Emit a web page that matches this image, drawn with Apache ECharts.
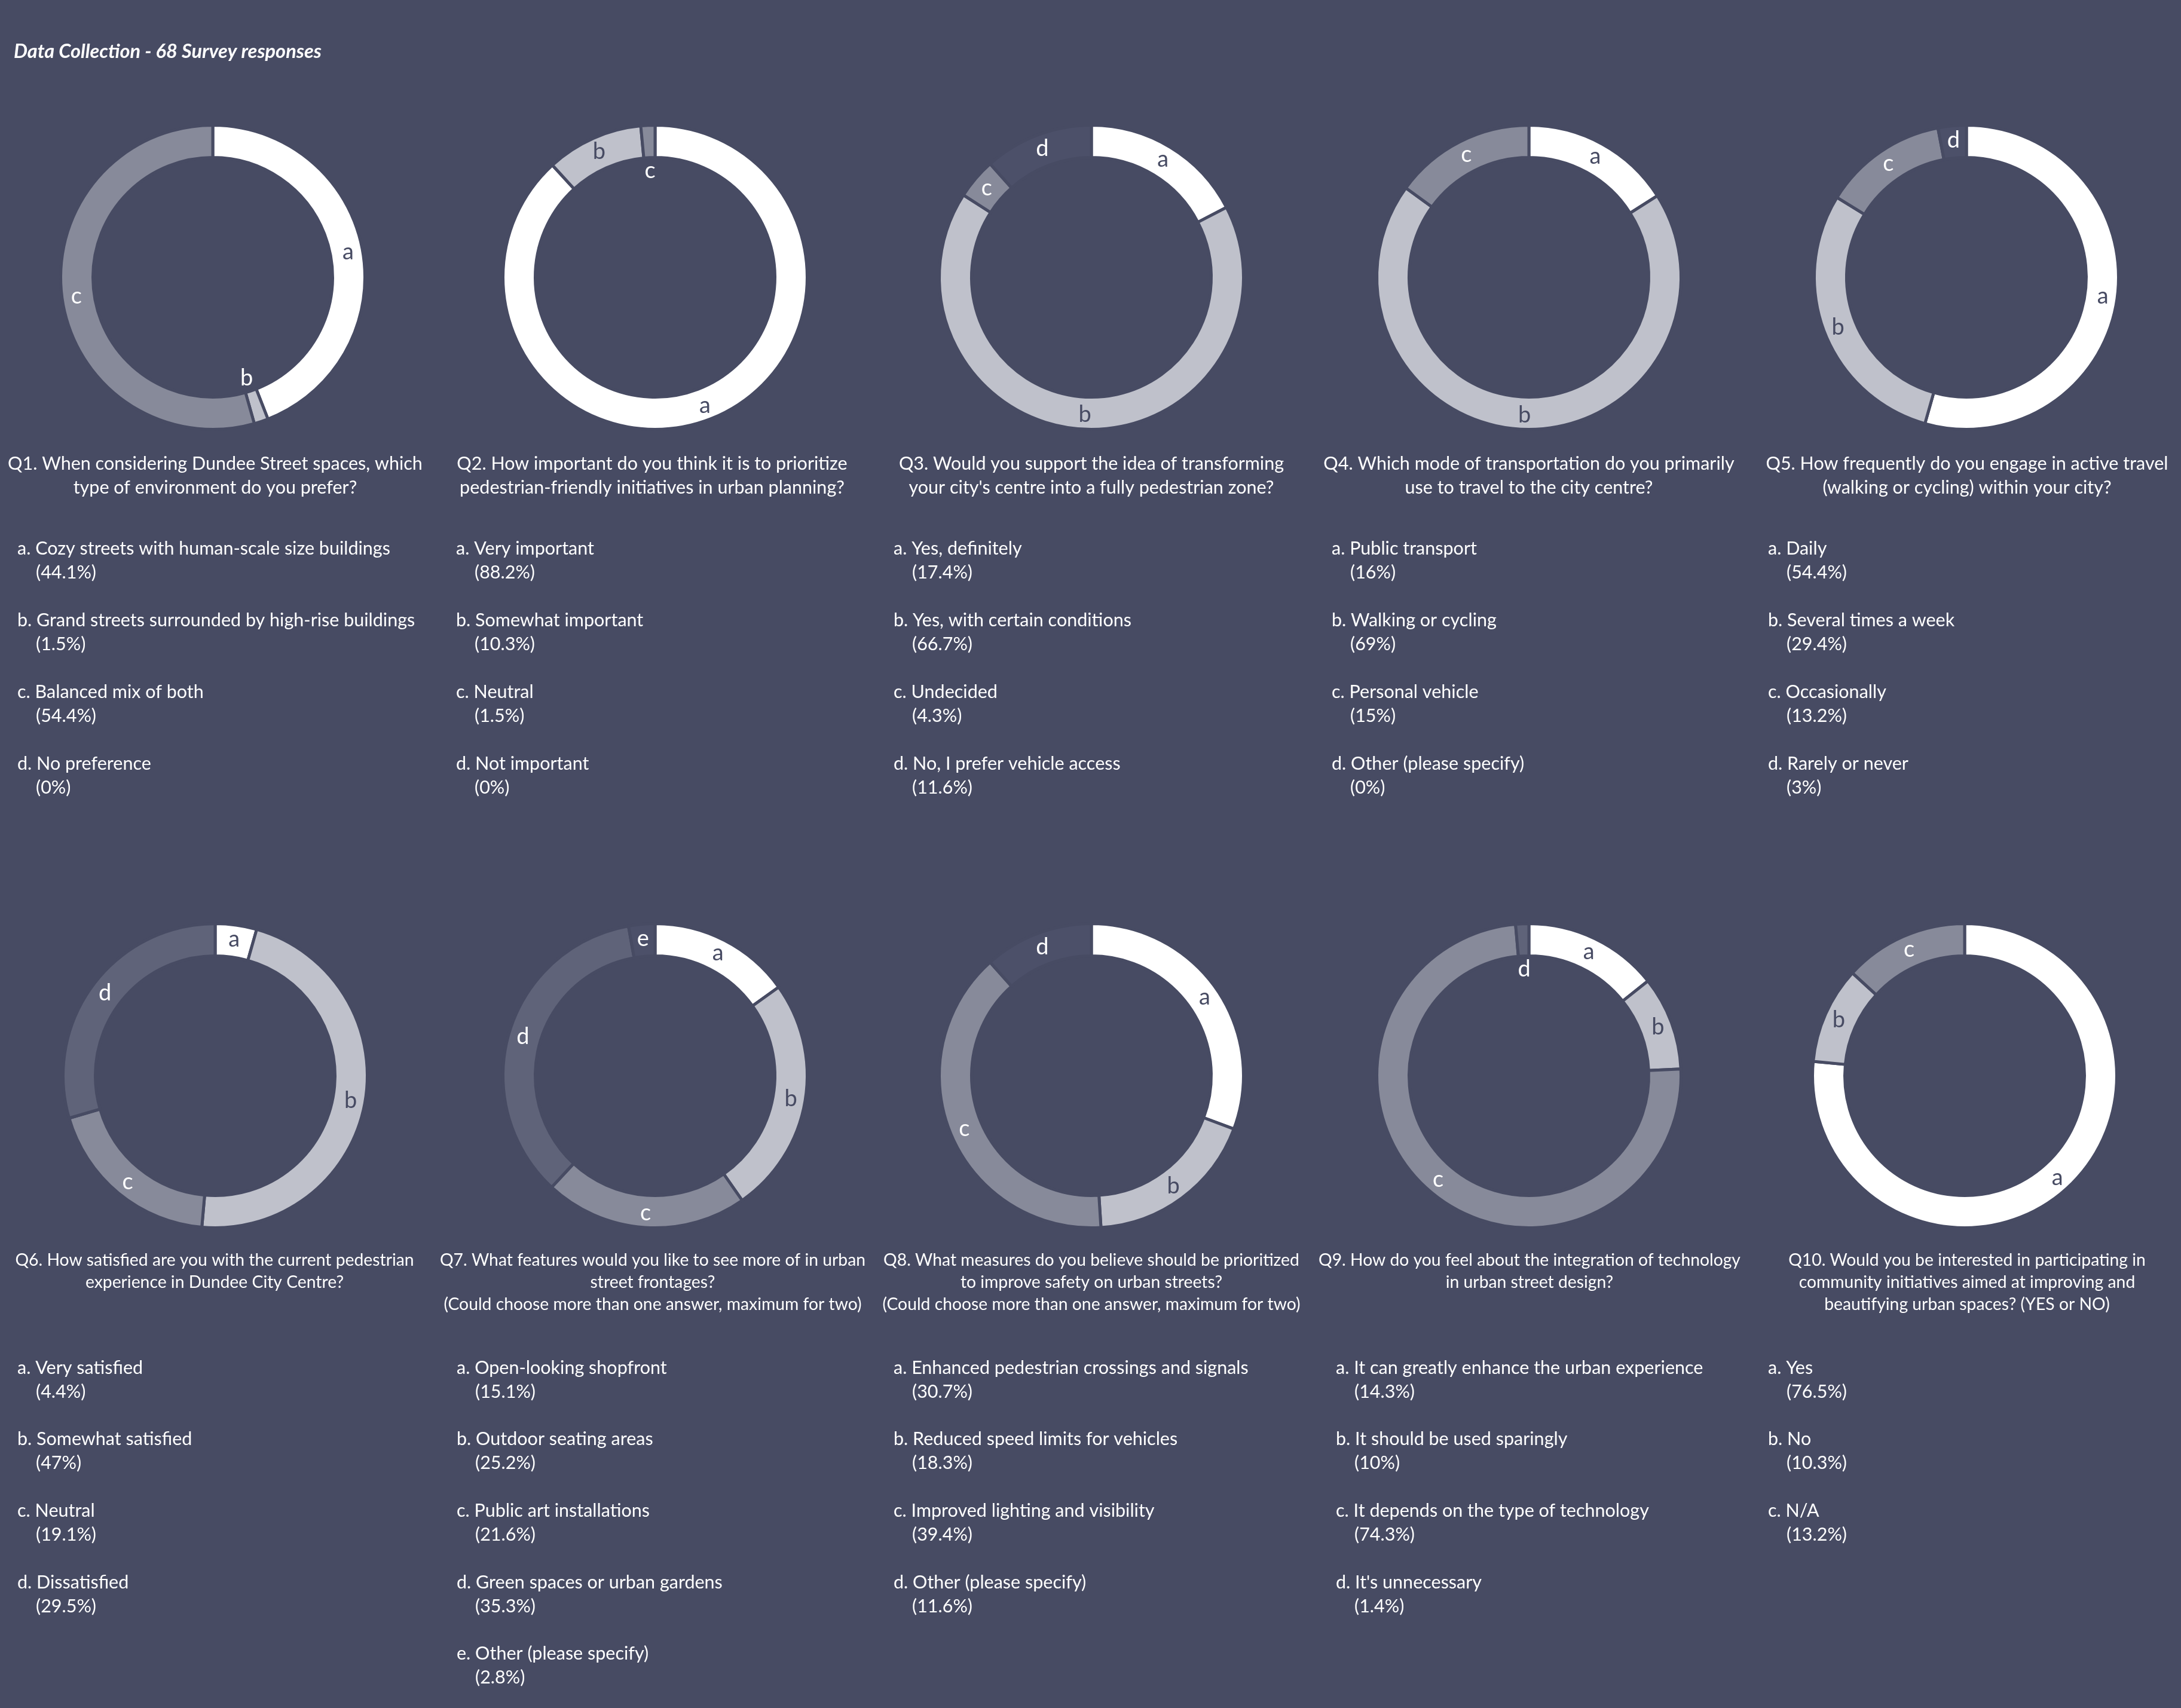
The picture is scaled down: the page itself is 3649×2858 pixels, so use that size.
<!DOCTYPE html>
<html>
<head>
<meta charset="utf-8">
<script src="https://cdn.jsdelivr.net/npm/echarts@6/dist/echarts.min.js"></script>
<style>
html,body{margin:0;padding:0;width:100%;height:100%;background:#474b63;}
#chart{width:100%;height:100%;}
</style>
</head>
<body>
<div id="chart"></div>
<script>
// ---------- DATA ----------
const mainTitle = "Data Collection - 68 Survey responses";

const questionTitles = [
  "Q1. When considering Dundee Street spaces, which\ntype of environment do you prefer?",
  "Q2. How important do you think it is to prioritize\npedestrian-friendly initiatives in urban planning?",
  "Q3. Would you support the idea of transforming\nyour city's centre into a fully pedestrian zone?",
  "Q4. Which mode of transportation do you primarily\nuse to travel to the city centre?",
  "Q5. How frequently do you engage in active travel\n(walking or cycling) within your city?",
  "Q6. How satisfied are you with the current pedestrian\nexperience in Dundee City Centre?",
  "Q7. What features would you like to see more of in urban\nstreet frontages?\n(Could choose more than one answer, maximum for two)",
  "Q8. What measures do you believe should be prioritized\nto improve safety on urban streets?\n(Could choose more than one answer, maximum for two)",
  "Q9. How do you feel about the integration of technology\nin urban street design?",
  "Q10. Would you be interested in participating in\ncommunity initiatives aimed at improving and\nbeautifying urban spaces? (YES or NO)"
];

const q1Options = ["Cozy streets with human-scale size buildings", "Grand streets surrounded by high-rise buildings", "Balanced mix of both", "No preference"];
const q1Values  = [44.1, 1.5, 54.4, 0];
const q2Options = ["Very important", "Somewhat important", "Neutral", "Not important"];
const q2Values  = [88.2, 10.3, 1.5, 0];
const q3Options = ["Yes, definitely", "Yes, with certain conditions", "Undecided", "No, I prefer vehicle access"];
const q3Values  = [17.4, 66.7, 4.3, 11.6];
const q4Options = ["Public transport", "Walking or cycling", "Personal vehicle", "Other (please specify)"];
const q4Values  = [16, 69, 15, 0];
const q5Options = ["Daily", "Several times a week", "Occasionally", "Rarely or never"];
const q5Values  = [54.4, 29.4, 13.2, 3];
const q6Options = ["Very satisfied", "Somewhat satisfied", "Neutral", "Dissatisfied"];
const q6Values  = [4.4, 47, 19.1, 29.5];
const q7Options = ["Open-looking shopfront", "Outdoor seating areas", "Public art installations", "Green spaces or urban gardens", "Other (please specify)"];
const q7Values  = [15.1, 25.2, 21.6, 35.3, 2.8];
const q8Options = ["Enhanced pedestrian crossings and signals", "Reduced speed limits for vehicles", "Improved lighting and visibility", "Other (please specify)"];
const q8Values  = [30.7, 18.3, 39.4, 11.6];
const q9Options = ["It can greatly enhance the urban experience", "It should be used sparingly", "It depends on the type of technology", "It's unnecessary"];
const q9Values  = [14.3, 10, 74.3, 1.4];
const q10Options = ["Yes", "No", "N/A"];
const q10Values  = [76.5, 10.3, 13.2];

const allOptions = [q1Options, q2Options, q3Options, q4Options, q5Options, q6Options, q7Options, q8Options, q9Options, q10Options];
const allValues  = [q1Values, q2Values, q3Values, q4Values, q5Values, q6Values, q7Values, q8Values, q9Values, q10Values];

// ---------- STYLE / LAYOUT ----------
const BG = '#474b63';
const DARK_TXT = '#474b63';
const palette = {W:'#ffffff', L:'#bfc1cb', M:'#878a9a', D:'#5f6379', X:'#4c5069'};
const sliceColors = [
  ['W','L','M','D'], ['W','L','M','D'], ['W','L','M','X'], ['W','L','M','D'], ['W','L','M','X'],
  ['W','L','M','D'], ['W','L','M','D','X'], ['W','L','M','X'], ['W','L','M','D'], ['W','L','M']
];
const FONT = 'Lato';
const TXT_SIZE = 30.5;
const TITLE_SIZE = [30.5, 28.3];
const LBL_SIZE = 38;

const donutCX = [[356, 1096, 1826, 2558, 3290], [360, 1096, 1826, 2558, 3287]];
const donutCY = [464, 1800];
const titleCX = [[360, 1091, 1826, 2558, 3291], [359, 1092, 1826, 2559, 3291]];
const titleY0 = [776, 2109];
const titleLH = [40, 37];
const ansX = [[29, 763, 1495, 2228, 2958], [29, 764, 1495, 2235, 2958]];
const ansY0 = [918, 2289];
const ansStep = [120, 119.6];
const pctDY = 40;
const pctDX = 31;

const chart = echarts.init(document.getElementById('chart'));
const series = [];
const graphics = [];

graphics.push({
  type:'text', x: 23, y: 87,
  style:{text: mainTitle, fill:'#ffffff', font: 'italic bold 32.5px ' + FONT, textAlign:'left', textVerticalAlign:'middle'}
});

for (let q = 0; q < 10; q++) {
  const row = q < 5 ? 0 : 1;
  const col = q % 5;
  const vals = allValues[q];
  const cols = sliceColors[q];
  const data = [];
  const smallData = [];
  vals.forEach((v, j) => {
    if (v <= 0) return;
    const key = cols[j];
    const fill = palette[key];
    const lblColor = (key === 'W' || key === 'L') ? DARK_TXT : '#ffffff';
    const letter = String.fromCharCode(97 + j);
    data.push({name: letter, value: v, itemStyle:{color: fill}, label:{show: v >= 2, color: lblColor}});
    smallData.push({name: letter, value: v, itemStyle:{color:'rgba(0,0,0,0)', borderWidth:0}, label:{show: v < 2, color:'#ffffff'}});
  });
  const center = [donutCX[row][col], donutCY[row]];
  series.push({
    type:'pie', center: center, radius:[200.5, 254.5], startAngle:90, clockwise:true,
    avoidLabelOverlap:false, silent:true, animation:false,
    itemStyle:{borderColor: BG, borderWidth:5},
    label:{show:true, position:'inside', formatter:'{b}', fontSize: LBL_SIZE, fontFamily: FONT},
    labelLine:{show:false},
    data: data
  });
  series.push({
    type:'pie', center: center, radius:[148, 203], startAngle:90, clockwise:true,
    avoidLabelOverlap:false, silent:true, animation:false,
    label:{show:true, position:'inside', formatter:'{b}', fontSize: LBL_SIZE, fontFamily: FONT},
    labelLine:{show:false},
    data: smallData
  });

  // question title lines
  questionTitles[q].split('\n').forEach((line, k) => {
    graphics.push({
      type:'text', x: titleCX[row][col], y: titleY0[row] + k * titleLH[row],
      style:{text: line, fill:'#ffffff', font: TITLE_SIZE[row] + 'px ' + FONT, textAlign:'center', textVerticalAlign:'middle'}
    });
  });

  // answers
  allOptions[q].forEach((opt, j) => {
    const letter = String.fromCharCode(97 + j);
    const y = ansY0[row] + j * ansStep[row];
    graphics.push({
      type:'text', x: ansX[row][col], y: y,
      style:{text: letter + '. ' + opt, fill:'#ffffff', font: TXT_SIZE + 'px ' + FONT, textAlign:'left', textVerticalAlign:'middle'}
    });
    graphics.push({
      type:'text', x: ansX[row][col] + pctDX, y: y + pctDY,
      style:{text: '(' + vals[j] + '%)', fill:'#ffffff', font: TXT_SIZE + 'px ' + FONT, textAlign:'left', textVerticalAlign:'middle'}
    });
  });
}

chart.setOption({
  backgroundColor: BG,
  animation:false,
  series: series,
  graphic: graphics
});
window.addEventListener('resize', () => chart.resize());
</script>
</body>
</html>
